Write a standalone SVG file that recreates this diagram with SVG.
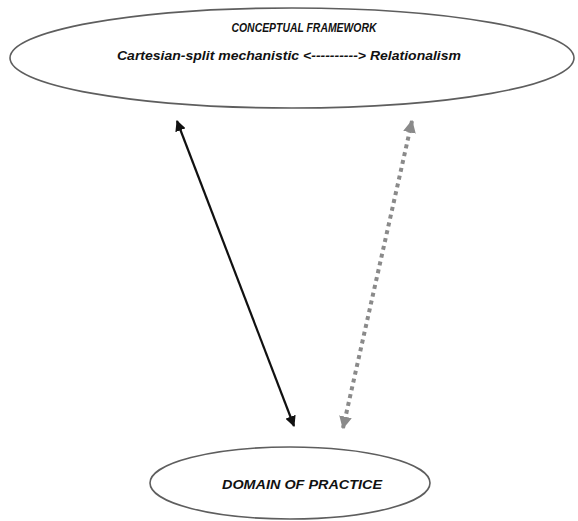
<svg xmlns="http://www.w3.org/2000/svg" width="578" height="521" viewBox="0 0 578 521">
<defs>
<style>
.node ellipse{fill:#fff;stroke:#5e5e5e;stroke-width:1.6}
.lbl{font-family:"Liberation Sans",Arial,sans-serif;font-weight:bold;font-style:italic;font-size:13px;fill:#111;text-anchor:middle}
.solid{stroke:#111;stroke-width:2.2;fill:none}
.dotted{stroke:#8a8a8a;stroke-width:4;stroke-dasharray:4 4;fill:none}
</style>
<marker id="ah-black" viewBox="0 0 10 10" refX="9" refY="5" markerWidth="5" markerHeight="5" orient="auto-start-reverse" markerUnits="strokeWidth">
<path d="M0,0 L10,5 L0,10 z" fill="#111"/>
</marker>
<marker id="ah-gray" viewBox="0 0 10 10" refX="9" refY="5" markerWidth="3.2" markerHeight="3.2" orient="auto-start-reverse" markerUnits="strokeWidth">
<path d="M0,0 L10,5 L0,10 z" fill="#8a8a8a"/>
</marker>
</defs>
<rect width="578" height="521" fill="#fff"/>
<g id="conceptual-framework" class="node">
<ellipse cx="292" cy="58" rx="282" ry="50"/>
<text class="lbl" x="304" y="32" textLength="145" lengthAdjust="spacingAndGlyphs">CONCEPTUAL FRAMEWORK</text>
<text class="lbl" x="289" y="60" textLength="344" lengthAdjust="spacingAndGlyphs">Cartesian-split mechanistic &lt;----------&gt; Relationalism</text>
</g>
<g id="domain-of-practice" class="node">
<ellipse cx="290" cy="483" rx="140" ry="36"/>
<text class="lbl" x="302" y="489" textLength="160" lengthAdjust="spacingAndGlyphs">DOMAIN OF PRACTICE</text>
</g>
<g id="connectors">
<line class="solid" x1="177" y1="121" x2="294" y2="426" marker-start="url(#ah-black)" marker-end="url(#ah-black)"/>
<line class="dotted" x1="412" y1="121" x2="343" y2="428" marker-start="url(#ah-gray)" marker-end="url(#ah-gray)"/>
</g>
</svg>
